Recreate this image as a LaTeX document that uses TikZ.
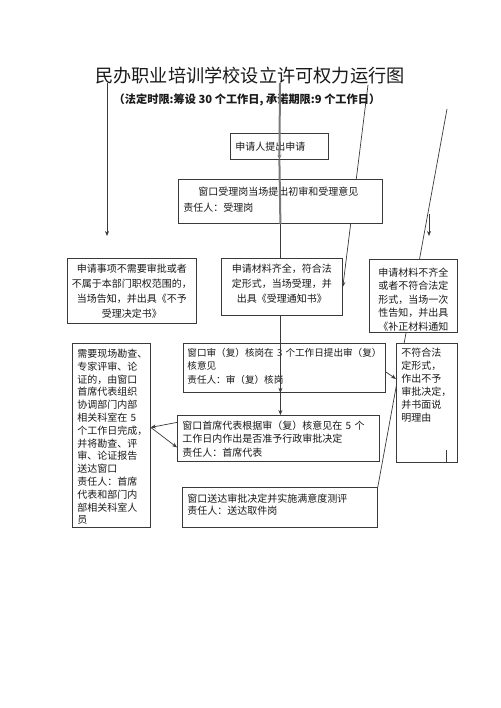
\documentclass[tikz,border=0pt]{standalone}
\usepackage{fontspec}
\usetikzlibrary{arrows.meta, positioning, backgrounds}
\newfontfamily\cjk{Noto Sans CJK SC}
\definecolor{LineColor}{HTML}{3A3A3A}
\definecolor{TrunkColor}{HTML}{7A7A7A}
\definecolor{TextDark}{HTML}{1A1A1A}
\newcommand\boxfont{\cjk\fontsize{10}{13.5}\selectfont}

\begin{document}
\begin{tikzpicture}[x=1pt, y=-1pt,
        box/.style={rectangle, draw=LineColor, fill=white, line width=0.8pt, anchor=north west, inner xsep=5pt, inner ysep=0pt, align=left, text height=14pt, font=\boxfont, text=TextDark},
        midbox/.style={box, align=center},
        link/.style={LineColor, line width=0.7pt},
        arr/.style={link, -{Stealth[length=5pt, width=4pt]}},
        trunk/.style={TrunkColor, line width=2pt}
      ]
        \useasboundingbox (0,0) rectangle (500,708);
        \begin{scope}[on background layer]
          \fill[white] (0,0) rectangle (500,708);
        \end{scope}

        % Title
        \node[font=\cjk\fontsize{18.2}{20}\selectfont, text=TextDark] (title) at (250,76) {民办职业培训学校设立许可权力运行图};
        \node[font=\cjk\bfseries\fontsize{11.2}{13}\selectfont, text=TextDark] (subtitle) at (247,100) {（法定时限:筹设 30 个工作日, 承诺期限:9 个工作日）};

        % Free ends
        \coordinate (topL) at (107,83);
        \coordinate (endL) at (107,236);
        \coordinate (topC) at (280,83);
        \coordinate (topM) at (368,85);
        \coordinate (topR) at (447,109);
        \coordinate (shortR) at (429,214);
        \coordinate (endR) at (429,236);
        \coordinate (tickJ) at (446,450);

        % Nodes
        \node[box, text width=88pt, text height=17pt, text depth=9pt] (apply) at (230,133) {申请人提出申请};
        \node[box, text width=194pt, text height=16pt, text depth=28pt, font=\cjk\fontsize{10}{16}\selectfont] (accept) at (178,179) {\hspace*{15pt}窗口受理岗当场提出初审和受理意见\\责任人：受理岗};
        \node[midbox, inner xsep=4pt, text width=121pt, text depth=51pt, font=\cjk\fontsize{10}{15}\selectfont] (reject) at (67,258) {申请事项不需要审批或者\\不属于本部门职权范围的，\\当场告知，并出具《不予\\受理决定书》};
        \node[midbox, text width=111pt, text depth=43pt, font=\cjk\fontsize{10}{15}\selectfont] (complete) at (221,258) {申请材料齐全，符合法\\定形式，当场受理，并\\出具《受理通知书》};
        \node[midbox, text width=78pt, text height=17pt, text depth=56pt] (supplement) at (369,259) {申请材料不齐全\\或者不符合法定\\形式，当场一次\\性告知，并出具\\《补正材料通知};
        \node[box, text width=68pt, text depth=170pt, font=\cjk\fontsize{10}{12.8}\selectfont] (survey) at (72,343) {需要现场勘查、\\专家评审、论\\证的，由窗口\\首席代表组织\\协调部门内部\\相关科室在~5\\个工作日完成，\\并将勘查、评\\审、论证报告\\送达窗口\\责任人：首席\\代表和部门内\\部相关科室人\\员};
        \node[box, inner xsep=4pt, text width=194pt, text height=13pt, text depth=36pt, font=\cjk\fontsize{9.6}{13.5}\selectfont] (review) at (183,343) {窗口审（复）核岗在~3~个工作日提出审（复）\\核意见\\责任人：审（复）核岗};
        \node[box, text width=192pt, text depth=32pt] (decide) at (177,415) {窗口首席代表根据审（复）核意见在~5~个\\工作日内作出是否准予行政审批决定\\责任人：首席代表};
        \node[box, text width=185pt, text height=15pt, text depth=25pt, font=\cjk\fontsize{10}{12}\selectfont] (deliver) at (182,487) {窗口送达审批决定并实施满意度测评\\责任人：送达取件岗};
        \node[box, text width=51pt, text height=13pt, text depth=106pt, font=\cjk\fontsize{10}{13}\selectfont] (refuse) at (396,343) {不符合法\\定形式，\\作出不予\\审批决定，\\并书面说\\明理由};

        % Connections behind the boxes
        \begin{scope}[on background layer]
          \draw[arr] (topM) -- (complete.east);
          \draw[link] (topR) -- (deliver.north east);
        \end{scope}

        % Connections
        \draw[arr] (topL) -- (endL);
        \draw[arr, trunk] (topC) -- (apply.south);
        \draw[trunk] (apply.south) -- (accept.south);
        \draw[link] (accept.south) -- (accept.south |- complete.north);
        \draw[arr] (accept.south |- complete.south) -- (accept.south |- review.south);
        \draw[arr] (accept.south |- review.south) -- (accept.south |- decide.north);
        \draw[arr] (shortR) -- (endR);
        \draw[link] (tickJ) -- (tickJ |- refuse.south);
        \draw[arr] ([yshift=-4pt]review.east) -- ([yshift=24pt]refuse.west);
        \draw[arr] ([yshift=16pt]decide.west) -- ([yshift=8pt]survey.east);
        \draw[arr] ([yshift=8pt]survey.east) -- ([yshift=-9pt]decide.west);
      \end{tikzpicture}
\end{document}
